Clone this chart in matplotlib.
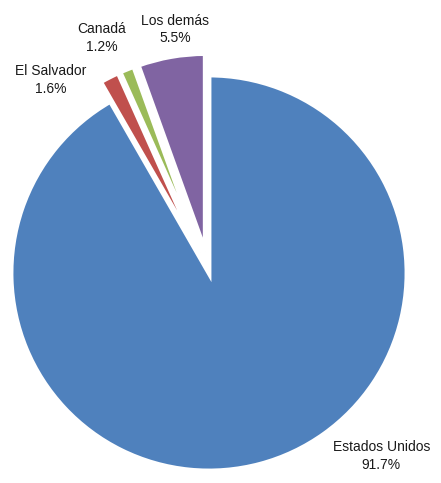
import matplotlib.pyplot as plt
from matplotlib import font_manager

# datos
paises = ['Estados Unidos', 'El Salvador', 'Canadá', 'Los demás']
porcentajes = [91.7, 1.6, 1.2, 5.5]
colores = ['#4F81BD', '#C0504D', '#9BBB59', '#8064A2']
separacion = [0.0, 0.11, 0.11, 0.11]

# posiciones de las etiquetas (en radios)
pos_etiquetas = [(0.87, -0.925), (-0.80, 0.975), (-0.54, 1.185), (-0.17, 1.23)]

nombres = {f.name for f in font_manager.fontManager.ttflist}
fuente = 'Liberation Sans Narrow' if 'Liberation Sans Narrow' in nombres else 'Liberation Sans'
plt.rcParams['font.family'] = [fuente, 'DejaVu Sans']

fig = plt.figure(figsize=(4.41, 4.83), dpi=100)
cx, cy, r = 209, 273, 198
ax = fig.add_axes([(cx - r) / 441, (483 - cy - r) / 483, 2 * r / 441, 2 * r / 483])

wedges, _ = ax.pie(porcentajes, colors=colores, startangle=90, counterclock=False,
                   explode=separacion,
                   wedgeprops=dict(edgecolor='white', linewidth=3.5))
for w in wedges:
    w.set_clip_on(False)
ax.set_xlim(-1, 1)
ax.set_ylim(-1, 1)
ax.set_aspect('auto')
ax.axis('off')

for nombre, valor, (x, y) in zip(paises, porcentajes, pos_etiquetas):
    ax.text(x, y, f'{nombre}\n{valor:.1f}%', ha='center', va='center',
            fontsize=10, color='#1a1a1a', linespacing=1.35)

fig.savefig('out.png', dpi=100)
